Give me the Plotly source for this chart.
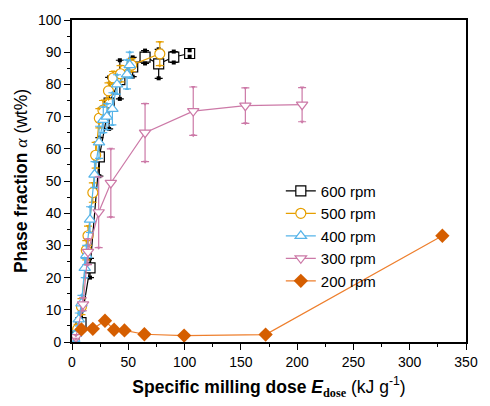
import plotly.graph_objects as go

# 600 rpm
x600 = [1.7, 8.0, 16.0, 24.3, 33.0, 42.5, 53.9, 64.9, 77.0, 90.4, 104.5]
y600 = [2.1, 6.0, 23.0, 57.5, 74.2, 81.5, 85.4, 88.5, 86.4, 88.5, 89.6]
e600 = [0.6, 1.5, 3.0, 6.0, 8.0, 6.0, 3.0, 2.0, 4.5, 1.7, 1.0]
# 500 rpm
x500 = [2.0, 5.0, 8.4, 12.7, 14.2, 18.5, 21.0, 24.3, 27.5, 32.4, 36.5, 43.1, 53.0, 78.0]
y500 = [1.0, 4.0, 11.0, 28.5, 33.0, 46.4, 58.0, 69.5, 72.0, 78.0, 82.0, 83.3, 86.0, 89.5]
e500 = [0.5, 1.5, 2.5, 3.0, 3.0, 3.0, 4.0, 3.0, 3.0, 2.5, 2.0, 2.5, 2.0, 3.7]
# 400 rpm
x400 = [2.0, 3.5, 6.0, 8.4, 11.3, 12.7, 16.0, 20.0, 24.0, 27.8, 31.0, 35.9, 40.0, 48.9, 51.3]
y400 = [1.0, 2.5, 7.0, 12.0, 23.0, 27.0, 38.0, 52.0, 62.0, 69.0, 70.0, 72.4, 80.0, 83.1, 86.0]
e400 = [0.5, 1.0, 2.0, 2.5, 3.0, 3.0, 4.0, 4.0, 5.0, 4.0, 4.0, 5.0, 3.0, 4.5, 4.0]
# 300 rpm
x300 = [3.5, 9.8, 14.2, 23.7, 34.5, 64.9, 107.7, 154.0, 204.4]
y300 = [1.5, 11.7, 28.0, 40.3, 49.4, 65.0, 71.7, 73.4, 73.7]
e300 = [0.5, 2.0, 4.0, 11.0, 10.6, 9.0, 7.5, 5.5, 5.3]
# 200 rpm
x200 = [8.4, 18.5, 29.3, 37.4, 46.6, 64.3, 99.6, 172.0, 329.0]
y200 = [3.9, 4.1, 6.6, 3.8, 3.6, 2.4, 2.0, 2.3, 33.0]

fig = go.Figure()

series = [
    ("600 rpm", x600, y600, e600, "#000000", "square", "square"),
    ("500 rpm", x500, y500, e500, "#E69F00", "circle", "triangle-down"),
    ("400 rpm", x400, y400, e400, "#56B4E9", "triangle-up", "triangle-up"),
    ("300 rpm", x300, y300, e300, "#CC79A7", "triangle-down", "triangle-down"),
]

for name, xs, ys, es, col, sym, small in series:
    fig.add_trace(go.Scatter(
        x=xs, y=ys, name=name, mode="lines+markers",
        line=dict(color=col, width=1.2),
        marker=dict(symbol=sym, size=10, color="white", line=dict(color=col, width=1.2)),
        error_y=dict(type="data", array=es, visible=True, color=col, thickness=1.2, width=4),
    ))
    fig.add_trace(go.Scatter(
        x=xs + xs, y=[a + b for a, b in zip(ys, es)] + [a - b for a, b in zip(ys, es)],
        mode="markers", showlegend=False, hoverinfo="skip",
        marker=dict(symbol=small, size=4, color=col, line=dict(width=0)),
    ))

fig.add_trace(go.Scatter(
    x=x200, y=y200, name="200 rpm", mode="lines+markers",
    line=dict(color="#EE7F2D", width=1.2),
    marker=dict(symbol="diamond", size=11, color="#D55E00", line=dict(color="#D55E00", width=0)),
))

axis_common = dict(
    showline=True, linecolor="black", linewidth=1.6, mirror=True,
    ticks="outside", ticklen=6, tickwidth=1.3, tickcolor="black",
    showgrid=False, zeroline=False,
    tickfont=dict(family="Liberation Sans, Arial", size=14, color="black"),
)

fig.update_xaxes(
    range=[0, 350], tickvals=[0, 50, 100, 150, 200, 250, 300, 350],
    minor=dict(dtick=25, tick0=0, ticks="outside", ticklen=3, tickwidth=1.1, tickcolor="black"),
    title=dict(
        text="<b>Specific milling dose <i>E</i><sub><span style='font-family:Liberation Serif, Times New Roman'>dose</span></sub></b> (kJ g<sup>-1</sup>)",
        font=dict(family="Liberation Sans, Arial", size=17.5, color="black"), standoff=12),
    **axis_common,
)
fig.update_yaxes(
    range=[0, 100], dtick=10,
    minor=dict(dtick=5, tick0=0, ticks="outside", ticklen=3, tickwidth=1.1, tickcolor="black"),
    title=dict(
        text="<b>Phase fraction</b> <i><span style='font-family:Liberation Serif, Times New Roman'>α</span></i> (wt%)",
        font=dict(family="Liberation Sans, Arial", size=17.5, color="black"), standoff=6),
    **axis_common,
)

fig.update_layout(
    width=490, height=406,
    margin=dict(l=72, r=15, t=18, b=61),
    plot_bgcolor="white", paper_bgcolor="white",
    legend=dict(x=0.53, y=0.52, xanchor="left", yanchor="top",
                font=dict(family="Liberation Sans, Arial", size=15, color="black"),
                bgcolor="rgba(0,0,0,0)", tracegroupgap=0, itemwidth=30),
)

fig.write_html("out.html")
